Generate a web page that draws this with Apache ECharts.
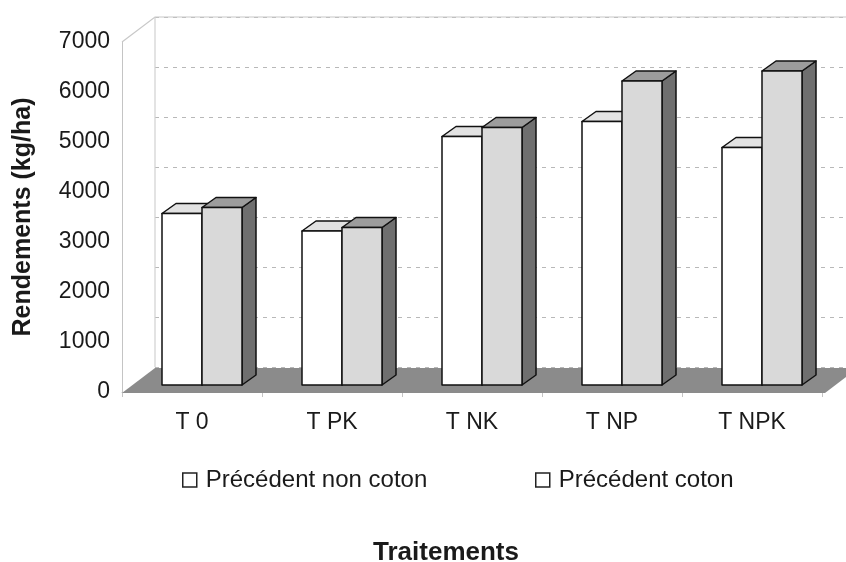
<!DOCTYPE html>
<html>
<head>
<meta charset="utf-8">
<script src="https://cdn.jsdelivr.net/npm/echarts@6/dist/echarts.min.js"></script>
<style>
html,body{margin:0;padding:0;background:#fff;}
#c{width:846px;height:562px;}
</style>
</head>
<body>
<div id="c"></div>
<script>
var categories = ['T 0', 'T PK', 'T NK', 'T NP', 'T NPK'];
var nonCoton = [3430, 3080, 4970, 5270, 4750];
var coton = [3550, 3150, 5150, 6080, 6280];
var yTicks = [0, 1000, 2000, 3000, 4000, 5000, 6000, 7000];
var seriesNames = ['Précédent non coton', 'Précédent coton'];

var FONT = "'Liberation Sans', Arial, sans-serif";
var G = {left: 122, top: 42, width: 700, height: 350};
var WALL = {dx: 33, dy: -25};
var BAR_OFF = {dx: 10, dy: -7};
var BAR_DEPTH = {dx: 14, dy: -10};
var BAR_FRAC = 40 / 140;

var faces = [
  {front: '#ffffff', top: '#e2e2e2', side: '#9a9a9a'},
  {front: '#d9d9d9', top: '#9c9c9c', side: '#6f6f6f'}
];

function makeRender(s) {
  return function (params, api) {
    var cat = api.value(0), val = api.value(1);
    var base = api.coord([cat, 0]);
    var topP = api.coord([cat, val]);
    var band = api.size([1, 0])[0];
    var w = band * BAR_FRAC;
    var x0 = base[0] + BAR_OFF.dx + (s - 1) * w;
    var yb = base[1] + BAR_OFF.dy;
    var yt = topP[1] + BAR_OFF.dy;
    var dx = BAR_DEPTH.dx, dy = BAR_DEPTH.dy;
    var st = {stroke: '#111', lineWidth: 1.5, lineJoin: 'round'};
    return {
      type: 'group',
      children: [
        {type: 'polygon', shape: {points: [[x0 + w, yt], [x0 + w + dx, yt + dy], [x0 + w + dx, yb + dy], [x0 + w, yb]]},
          style: Object.assign({fill: faces[s].side}, st)},
        {type: 'polygon', shape: {points: [[x0, yt], [x0 + w, yt], [x0 + w + dx, yt + dy], [x0 + dx, yt + dy]]},
          style: Object.assign({fill: faces[s].top}, st)},
        {type: 'rect', shape: {x: x0, y: yt, width: w, height: yb - yt},
          style: Object.assign({fill: faces[s].front}, st)}
      ]
    };
  };
}

function toData(arr) { return arr.map(function (v, i) { return [i, v]; }); }

var fl = G.left, fr = G.left + G.width, fb = G.top + G.height;

var option = {
  animation: false,
  backgroundColor: '#ffffff',
  textStyle: {fontFamily: FONT},
  grid: [
    {left: G.left, top: G.top, width: G.width, height: G.height},
    {left: G.left + WALL.dx, top: G.top + WALL.dy, width: G.width + 40, height: G.height}
  ],
  xAxis: [
    {type: 'category', gridIndex: 0, data: categories,
      axisLine: {show: true, lineStyle: {color: '#c4c4c4', width: 1}},
      axisTick: {show: true, length: 5, lineStyle: {color: '#c4c4c4'}},
      axisLabel: {fontSize: 23, color: '#1a1a1a', margin: 19, fontFamily: FONT},
      splitLine: {show: false}, z: 0},
    {type: 'category', gridIndex: 1, data: categories, show: false}
  ],
  yAxis: [
    {type: 'value', gridIndex: 0, min: 0, max: 7000, interval: 1000,
      name: 'Rendements (kg/ha)', nameLocation: 'middle', nameGap: 86,
      nameTextStyle: {fontSize: 25, fontWeight: 'bold', color: '#1a1a1a', fontFamily: FONT},
      axisLine: {show: true, lineStyle: {color: '#c4c4c4', width: 1}},
      axisTick: {show: false},
      axisLabel: {fontSize: 23, color: '#1a1a1a', margin: 12, fontFamily: FONT,
        formatter: function (v) { return yTicks.indexOf(v) >= 0 ? String(v) : ''; }},
      splitLine: {show: false}},
    {type: 'value', gridIndex: 1, min: 0, max: 7000, interval: 1000,
      axisLine: {show: false}, axisTick: {show: false}, axisLabel: {show: false},
      splitLine: {show: true, lineStyle: {color: '#a0a0a0', type: [4, 5], width: 1, opacity: 0.75}}}
  ],
  legend: [
    {left: 177, top: 463, itemWidth: 14, itemHeight: 14, icon: 'rect',
      textStyle: {fontSize: 24, color: '#1a1a1a', fontFamily: FONT, padding: [0, 0, 0, 4]},
      data: [{name: seriesNames[0], itemStyle: {color: '#fff', borderColor: '#222', borderWidth: 1.5}}]},
    {left: 530, top: 463, itemWidth: 14, itemHeight: 14, icon: 'rect',
      textStyle: {fontSize: 24, color: '#1a1a1a', fontFamily: FONT, padding: [0, 0, 0, 4]},
      data: [{name: seriesNames[1], itemStyle: {color: '#fff', borderColor: '#222', borderWidth: 1.5}}]}
  ],
  graphic: [
    {type: 'polygon', z: 1, silent: true,
      shape: {points: [[fl, fb + 1], [fr + 3, fb + 1], [fr + 3 + WALL.dx, fb + 1 + WALL.dy], [fl + WALL.dx, fb + 1 + WALL.dy]]},
      style: {fill: '#8b8b8b'}},
    {type: 'polyline', z: 1, silent: true,
      shape: {points: [[fl, G.top], [fl + WALL.dx, G.top + WALL.dy], [846, G.top + WALL.dy]]},
      style: {stroke: '#c8c8c8', lineWidth: 1.2, fill: null}},
    {type: 'line', z: 1, silent: true,
      shape: {x1: fl + WALL.dx, y1: G.top + WALL.dy, x2: fl + WALL.dx, y2: fb + WALL.dy},
      style: {stroke: '#d0d0d0', lineWidth: 1.2}},
    {type: 'text', z: 1, silent: true, x: 446, y: 553,
      style: {text: 'Traitements', fontSize: 26, fontWeight: 'bold', fill: '#1a1a1a', fontFamily: FONT,
        align: 'center', verticalAlign: 'middle'}}
  ],
  series: [
    {name: seriesNames[0], type: 'custom', xAxisIndex: 0, yAxisIndex: 0, z: 2,
      renderItem: makeRender(0), data: toData(nonCoton), encode: {x: 0, y: 1}},
    {name: seriesNames[1], type: 'custom', xAxisIndex: 0, yAxisIndex: 0, z: 2,
      renderItem: makeRender(1), data: toData(coton), encode: {x: 0, y: 1}}
  ]
};

var chart = echarts.init(document.getElementById('c'), null, {renderer: 'canvas'});
chart.setOption(option);
</script>
</body>
</html>
